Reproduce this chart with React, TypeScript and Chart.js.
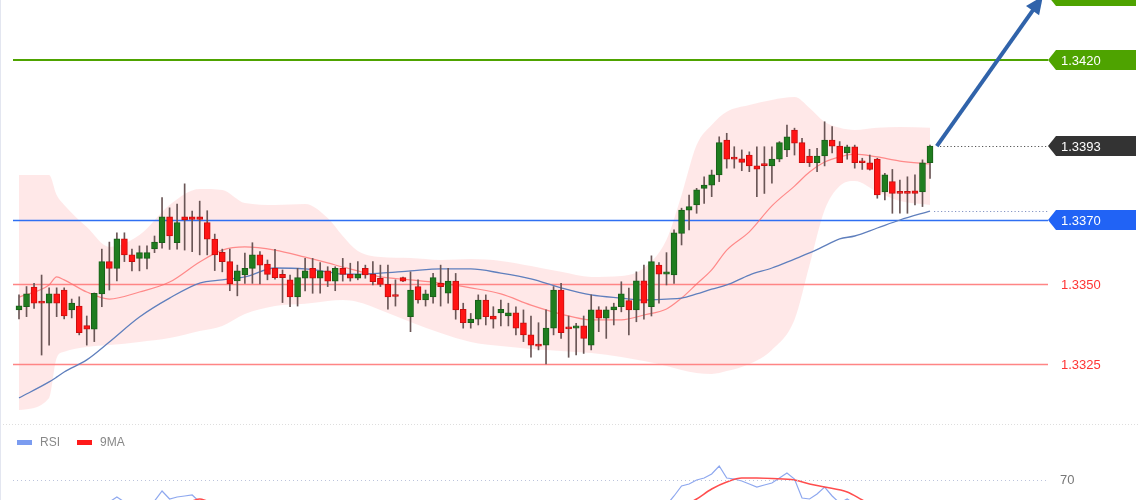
import React, { useEffect, useRef } from "react";
import { Chart, registerables } from "chart.js";

Chart.register(...registerables);

// ---- Candles (one per session, left to right) ----
const opens = [1.33419,1.33429,1.33490,1.33443,1.33440,1.33469,1.33481,1.33419,1.33431,1.33370,
1.33359,1.33469,1.33570,1.33549,1.33641,1.33591,1.33580,1.33580,1.33610,1.33629,
1.33710,1.33629,1.33710,1.33710,1.33710,1.33692,1.33640,1.33599,1.33570,1.33510,
1.33528,1.33549,1.33591,1.33562,1.33549,1.33530,1.33513,1.33460,1.33518,1.33549,
1.33518,1.33541,1.33509,1.33549,1.33530,1.33518,1.33549,1.33530,1.33518,1.33499,
1.33464,1.33520,1.33398,1.33492,1.33450,1.33460,1.33502,1.33471,1.33509,1.33421,
1.33379,1.33390,1.33450,1.33400,1.33410,1.33400,1.33410,1.33379,1.33341,1.33312,
1.33309,1.33362,1.33481,1.33361,1.33362,1.33369,1.33309,1.33419,1.33393,1.33419,
1.33429,1.33448,1.33419,1.33510,1.33429,1.33559,1.33531,1.33528,1.33658,1.33731,
1.33747,1.33799,1.33809,1.33841,1.33950,1.33891,1.33891,1.33903,1.33869,1.33872,
1.33869,1.33890,1.33919,1.33981,1.33942,1.33900,1.33879,1.33900,1.33950,1.33931,
1.33910,1.33929,1.33882,1.33879,1.33890,1.33788,1.33820,1.33788,1.33788,1.33791,
1.33788,1.33879];

const highs = [1.33466,1.33492,1.33502,1.33528,1.33488,1.33488,1.33488,1.33453,1.33460,1.33400,
1.33472,1.33609,1.33631,1.33660,1.33660,1.33609,1.33619,1.33619,1.33650,1.33770,
1.33738,1.33750,1.33813,1.33728,1.33759,1.33729,1.33656,1.33609,1.33609,1.33559,
1.33597,1.33629,1.33601,1.33575,1.33608,1.33544,1.33528,1.33549,1.33580,1.33580,
1.33567,1.33554,1.33554,1.33580,1.33565,1.33570,1.33559,1.33570,1.33559,1.33559,
1.33513,1.33522,1.33538,1.33513,1.33481,1.33533,1.33559,1.33549,1.33533,1.33440,
1.33408,1.33466,1.33466,1.33429,1.33450,1.33440,1.33429,1.33419,1.33400,1.33379,
1.33419,1.33492,1.33502,1.33400,1.33377,1.33400,1.33466,1.33429,1.33429,1.33440,
1.33507,1.33487,1.33538,1.33559,1.33588,1.33567,1.33598,1.33669,1.33737,1.33778,
1.33799,1.33835,1.33856,1.33960,1.33971,1.33929,1.33919,1.33913,1.33929,1.33929,
1.33929,1.33945,1.33997,1.33987,1.33955,1.33921,1.33924,1.34007,1.33992,1.33945,
1.33934,1.33934,1.33893,1.33903,1.33893,1.33846,1.33858,1.33825,1.33835,1.33841,
1.33888,1.33934];

const lows = [1.33391,1.33398,1.33424,1.33278,1.33309,1.33398,1.33391,1.33394,1.33341,1.33309,
1.33320,1.33429,1.33481,1.33510,1.33570,1.33541,1.33541,1.33547,1.33598,1.33612,
1.33608,1.33609,1.33606,1.33601,1.33591,1.33591,1.33542,1.33538,1.33479,1.33463,
1.33502,1.33502,1.33500,1.33513,1.33515,1.33442,1.33429,1.33431,1.33478,1.33471,
1.33471,1.33492,1.33479,1.33509,1.33509,1.33513,1.33518,1.33497,1.33492,1.33421,
1.33431,1.33507,1.33351,1.33440,1.33431,1.33440,1.33431,1.33440,1.33390,1.33362,
1.33362,1.33372,1.33372,1.33362,1.33369,1.33369,1.33341,1.33320,1.33271,1.33294,
1.33250,1.33341,1.33330,1.33271,1.33278,1.33283,1.33294,1.33351,1.33330,1.33372,
1.33413,1.33341,1.33382,1.33390,1.33400,1.33440,1.33497,1.33502,1.33622,1.33669,
1.33721,1.33752,1.33773,1.33820,1.33862,1.33862,1.33854,1.33851,1.33773,1.33783,
1.33815,1.33882,1.33898,1.33903,1.33879,1.33867,1.33851,1.33869,1.33910,1.33879,
1.33890,1.33862,1.33858,1.33856,1.33768,1.33763,1.33721,1.33721,1.33721,1.33747,
1.33742,1.33830];

const closes = [1.33432,1.33469,1.33440,1.33440,1.33469,1.33440,1.33400,1.33440,1.33348,1.33359,
1.33471,1.33570,1.33549,1.33641,1.33591,1.33570,1.33598,1.33598,1.33631,1.33710,
1.33650,1.33692,1.33700,1.33702,1.33702,1.33640,1.33591,1.33570,1.33500,1.33541,
1.33549,1.33591,1.33559,1.33530,1.33520,1.33520,1.33460,1.33520,1.33541,1.33518,
1.33541,1.33509,1.33549,1.33530,1.33518,1.33530,1.33528,1.33507,1.33499,1.33460,
1.33461,1.33509,1.33481,1.33450,1.33469,1.33520,1.33492,1.33509,1.33419,1.33379,
1.33390,1.33450,1.33398,1.33390,1.33421,1.33410,1.33362,1.33341,1.33309,1.33306,
1.33362,1.33481,1.33348,1.33360,1.33369,1.33330,1.33419,1.33393,1.33419,1.33429,
1.33469,1.33419,1.33510,1.33440,1.33570,1.33531,1.33538,1.33660,1.33731,1.33742,
1.33794,1.33809,1.33841,1.33942,1.33890,1.33890,1.33880,1.33869,1.33859,1.33870,
1.33890,1.33942,1.33960,1.33940,1.33879,1.33879,1.33900,1.33950,1.33931,1.33879,
1.33929,1.33879,1.33879,1.33858,1.33778,1.33841,1.33783,1.33783,1.33783,1.33783,
1.33879,1.33931];

// ---- Bollinger band and moving averages, sampled at candle indices ----
const bandIdx = [0,4,5,6,9,12,16,20,24,27,30,34,38,41,43,45,48,52,56,60,64,68,72,76,80,83,86,88,90,92,94,97,100,103,105,107,109,111,114,117,121];
const bandUpper = [1.33841,1.33841,1.33778,1.33747,1.33678,1.33616,1.33653,1.33747,1.33797,1.33794,
1.33753,1.33747,1.33750,1.33706,1.33650,1.33603,1.33584,1.33581,1.33575,1.33578,
1.33572,1.33556,1.33538,1.33522,1.33525,1.33550,1.33638,1.33778,1.33934,1.33997,
1.34038,1.34059,1.34075,1.34084,1.34050,1.34006,1.33988,1.33981,1.33988,1.33991,1.33988];
const bandMiddle = [1.33459,1.33497,1.33522,1.33513,1.33475,1.33453,1.33475,1.33506,1.33569,1.33606,
1.33616,1.33606,1.33584,1.33566,1.33553,1.33541,1.33522,1.33513,1.33503,1.33488,
1.33469,1.33434,1.33406,1.33388,1.33388,1.33403,1.33422,1.33456,1.33500,1.33544,
1.33606,1.33663,1.33744,1.33806,1.33850,1.33881,1.33897,1.33906,1.33897,1.33884,1.33875];
const bandLower = [1.33106,1.33144,1.33269,1.33288,1.33303,1.33309,1.33319,1.33331,1.33353,1.33369,
1.33406,1.33431,1.33438,1.33447,1.33450,1.33444,1.33419,1.33381,1.33347,1.33319,
1.33306,1.33297,1.33291,1.33284,1.33272,1.33259,1.33244,1.33231,1.33222,1.33219,
1.33228,1.33250,1.33294,1.33388,1.33559,1.33731,1.33806,1.33822,1.33788,1.33759,1.33747];
const slowMA = [1.33144,1.33194,1.33209,1.33225,1.33263,1.33319,1.33397,1.33456,1.33503,1.33513,
1.33522,1.33550,1.33547,1.33538,1.33531,1.33531,1.33534,1.33541,1.33547,1.33547,
1.33534,1.33516,1.33488,1.33466,1.33456,1.33450,1.33453,1.33456,1.33469,1.33484,
1.33497,1.33528,1.33550,1.33578,1.33597,1.33619,1.33641,1.33650,1.33675,1.33700,1.33728];

// ---- RSI panel (only the upper part is visible) ----
const rsiX = [12,13,14,15,18,19,20,21,22,23,24,25,86,87,88,89,90,91,92,93,94,95,96,97,98,99,100,101,102,103,104,105,106,107,108,109,110,111];
const rsiY = [48,53,48,null,49,59,51,53,54,55,48,null,45,54,64,66,70,72,76,84,72,71,69,66,63,65,67,72,77,71,52,51,56,63,54,47,51,46];
const rsiMaX = [23,24,25,26,89,90,92,94,96,98,100,103,105,107,110,112,113];
const rsiMaY = [49,51,49,null,47,51,61,68,72,72,71.5,70,66,63,58,50,46];
const rsiLevel = 70;
const legendLabels = ["RSI", "9MA"];

// ---- Levels ----
const resistance = 1.3420;
const target = 1.3440;
const pivot = 1.3370;
const supports = [1.3350, 1.3325];

const FONT = '"Liberation Sans", Arial, sans-serif';
const LINE_X0 = 13;
const LINE_X1 = 1048;

function tag(ctx: CanvasRenderingContext2D, cy: number, color: string, text: string, textDy = 1) {
  ctx.save();
  ctx.fillStyle = color;
  ctx.beginPath();
  ctx.moveTo(1048, cy);
  ctx.lineTo(1056, cy - 10);
  ctx.lineTo(1136, cy - 10);
  ctx.lineTo(1136, cy + 10);
  ctx.lineTo(1056, cy + 10);
  ctx.closePath();
  ctx.fill();
  ctx.fillStyle = "#ffffff";
  ctx.font = "13px " + FONT;
  ctx.textBaseline = "middle";
  ctx.textAlign = "left";
  ctx.fillText(text, 1061, cy + textDy);
  ctx.restore();
}

function hline(ctx: CanvasRenderingContext2D, py: number, x0: number, x1: number, color: string, w: number, dash: number[] = []) {
  ctx.save();
  ctx.strokeStyle = color;
  ctx.lineWidth = w;
  ctx.setLineDash(dash);
  ctx.beginPath();
  ctx.moveTo(x0, py);
  ctx.lineTo(x1, py);
  ctx.stroke();
  ctx.restore();
}

const overlayPlugin = {
  id: "overlay",
  beforeDatasetDraw(chart: any, args: any) {
    if (args.index !== 2) return;
    const ctx = chart.ctx as CanvasRenderingContext2D;
    const y = chart.scales.y;
    hline(ctx, Math.round(y.getPixelForValue(resistance)), LINE_X0, LINE_X1, "#4ea300", 2);
    hline(ctx, Math.round(y.getPixelForValue(pivot)) + 0.5, LINE_X0, LINE_X1, "#2f6ff2", 1.6);
    supports.forEach((s) => hline(ctx, Math.round(y.getPixelForValue(s)) + 0.5, LINE_X0, LINE_X1, "#ff8585", 1.3));
  },
  afterDatasetsDraw(chart: any) {
    const ctx = chart.ctx as CanvasRenderingContext2D;
    const x = chart.scales.x;
    const y = chart.scales.y;
    const r = chart.scales.yRsi;
    const n = closes.length;
    const last = closes[n - 1];
    const lastX = x.getPixelForValue(n - 1);
    const lastY = Math.round(y.getPixelForValue(last)) + 0.5;
    const maY = Math.round(y.getPixelForValue(slowMA[slowMA.length - 1])) + 0.5;

    // dotted guides
    hline(ctx, lastY, lastX + 10, LINE_X1, "#555555", 1, [1.2, 2.3]);
    hline(ctx, maY, lastX + 4, LINE_X1, "#8796c4", 1, [1.2, 2.3]);

    // tags
    tag(ctx, y.getPixelForValue(target), "#4ea300", target.toFixed(4), -4);
    tag(ctx, y.getPixelForValue(resistance), "#4ea300", resistance.toFixed(4));
    tag(ctx, y.getPixelForValue(last), "#333333", last.toFixed(4));
    tag(ctx, y.getPixelForValue(pivot), "#2163f5", pivot.toFixed(4));
    ctx.save();
    ctx.fillStyle = "#ff3333";
    ctx.font = "13px " + FONT;
    ctx.textBaseline = "middle";
    supports.forEach((s) => ctx.fillText(s.toFixed(4), 1061, y.getPixelForValue(s) + 1));
    ctx.restore();

    // arrow
    const x0 = x.getPixelForValue(n - 1 + 0.9);
    const y0 = y.getPixelForValue(last);
    const x1 = x.getPixelForValue(n - 1 + 15);
    const y1 = y.getPixelForValue(target);
    const ang = Math.atan2(y1 - y0, x1 - x0);
    const headLen = 18, headW = 8;
    const bx = x1 - headLen * Math.cos(ang);
    const by = y1 - headLen * Math.sin(ang);
    ctx.save();
    ctx.strokeStyle = "#3063aa";
    ctx.fillStyle = "#3063aa";
    ctx.lineWidth = 4;
    ctx.beginPath();
    ctx.moveTo(x0, y0);
    ctx.lineTo(bx + 2 * Math.cos(ang), by + 2 * Math.sin(ang));
    ctx.stroke();
    ctx.beginPath();
    ctx.moveTo(x1, y1);
    ctx.lineTo(bx + headW * Math.sin(ang), by - headW * Math.cos(ang));
    ctx.lineTo(bx - headW * Math.sin(ang), by + headW * Math.cos(ang));
    ctx.closePath();
    ctx.fill();
    ctx.restore();

    // panel separator and left border
    hline(ctx, 424.5, 0, 1140, "#dedede", 1, [1, 2]);
    ctx.save();
    ctx.strokeStyle = "#e3e6f0";
    ctx.lineWidth = 1;
    ctx.beginPath();
    ctx.moveTo(0.5, 0);
    ctx.lineTo(0.5, 500);
    ctx.stroke();
    ctx.restore();

    // RSI level
    const ry = Math.round(r.getPixelForValue(rsiLevel)) + 0.5;
    hline(ctx, ry, LINE_X0, 1047, "#bcc4dc", 1, [1, 3]);
    ctx.save();
    ctx.fillStyle = "#777777";
    ctx.font = "13px " + FONT;
    ctx.textBaseline = "middle";
    ctx.fillText(String(rsiLevel), 1060, ry);

    // legend
    ctx.font = "12px " + FONT;
    ctx.fillStyle = "#7b9cf0";
    ctx.fillRect(17, 440, 15, 5);
    ctx.fillStyle = "#ff1a1a";
    ctx.fillRect(77, 440, 15, 5);
    ctx.fillStyle = "#888888";
    ctx.fillText(legendLabels[0], 40, 443);
    ctx.fillText(legendLabels[1], 100, 443);
    ctx.restore();
  },
};

export default function App() {
  const ref = useRef<HTMLCanvasElement>(null);

  useEffect(() => {
    const idx = closes.map((_, i) => i);
    const up = idx.map((i) => closes[i] >= opens[i]);
    const pts = (xs: number[], ys: (number | null)[]) => xs.map((xv, k) => ({ x: xv, y: ys[k] }));

    const chart = new Chart(ref.current as HTMLCanvasElement, {
      type: "bar",
      data: {
        datasets: [
          {
            type: "line",
            label: "bbUpper",
            data: pts(bandIdx, bandUpper),
            borderColor: "transparent",
            borderWidth: 0,
            pointRadius: 0,
            fill: "+1",
            backgroundColor: "rgba(255,120,120,0.17)",
            cubicInterpolationMode: "monotone",
            order: 10,
          } as any,
          {
            type: "line",
            label: "bbLower",
            data: pts(bandIdx, bandLower),
            borderColor: "transparent",
            borderWidth: 0,
            pointRadius: 0,
            fill: false,
            cubicInterpolationMode: "monotone",
            order: 9,
          } as any,
          {
            type: "line",
            label: "bbMiddle",
            data: pts(bandIdx, bandMiddle),
            borderColor: "rgba(255,105,105,0.75)",
            borderWidth: 1.2,
            pointRadius: 0,
            fill: false,
            cubicInterpolationMode: "monotone",
            order: 8,
          } as any,
          {
            type: "line",
            label: "slowMA",
            data: pts(bandIdx, slowMA),
            borderColor: "#5f7fbd",
            borderWidth: 1.3,
            pointRadius: 0,
            fill: false,
            cubicInterpolationMode: "monotone",
            order: 7,
          } as any,
          {
            type: "bar",
            label: "wick",
            data: idx.map((i) => ({ x: i, y: [lows[i], highs[i]] })),
            backgroundColor: "#6a5656",
            barThickness: 1,
            grouped: false,
            order: 4,
          } as any,
          {
            type: "bar",
            label: "body",
            data: idx.map((i) => ({ x: i, y: [opens[i], closes[i]] })),
            backgroundColor: up.map((u) => (u ? "#1f7d1f" : "#ff1414")),
            borderColor: up.map((u) => (u ? "#195f19" : "#c80e0e")),
            borderWidth: 1,
            borderSkipped: false,
            barThickness: 6,
            minBarLength: 2,
            grouped: false,
            order: 3,
          } as any,
          {
            type: "line",
            label: "RSI",
            yAxisID: "yRsi",
            data: pts(rsiX, rsiY),
            borderColor: "#8ea8ef",
            borderWidth: 1.2,
            pointRadius: 0,
            fill: false,
            spanGaps: false,
            order: 2,
          } as any,
          {
            type: "line",
            label: "9MA",
            yAxisID: "yRsi",
            data: pts(rsiMaX, rsiMaY),
            borderColor: "#ff4d4d",
            borderWidth: 1.5,
            pointRadius: 0,
            fill: false,
            spanGaps: false,
            cubicInterpolationMode: "monotone",
            order: 1,
          } as any,
        ],
      },
      options: {
        animation: false,
        responsive: false,
        maintainAspectRatio: false,
        events: [],
        layout: { padding: 0 },
        plugins: { legend: { display: false }, tooltip: { enabled: false } },
        scales: {
          x: { type: "linear", min: -2.5236, max: 148.89, display: false, offset: false, grid: { display: false } },
          y: { type: "linear", min: 1.32825, max: 1.343875, display: false },
          yRsi: { type: "linear", axis: "y", min: 50, max: 550, display: false },
        },
      } as any,
      plugins: [overlayPlugin as any],
    });
    return () => chart.destroy();
  }, []);

  return (
    <div style={{ position: "fixed", left: 0, top: 0, width: 1140, height: 500, background: "#ffffff" }}>
      <canvas ref={ref} width={1140} height={500} style={{ display: "block", width: 1140, height: 500 }} />
    </div>
  );
}
